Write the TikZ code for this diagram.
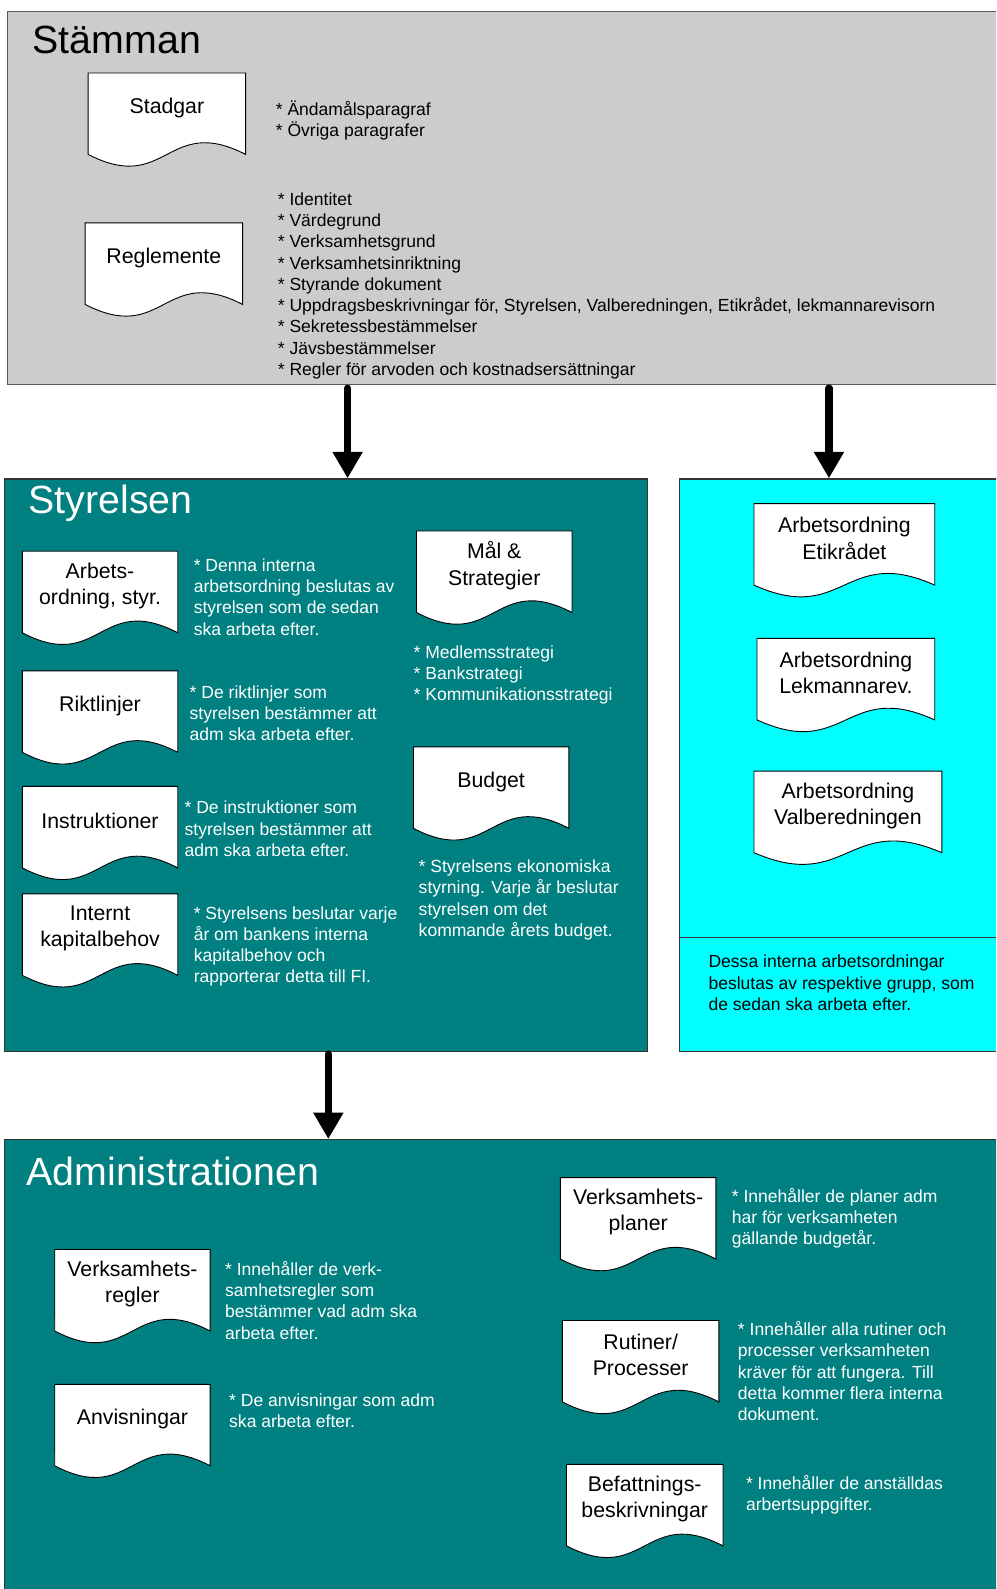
\documentclass[tikz,border=0pt]{standalone}
\usepackage{fontspec}
\setmainfont{Liberation Sans}
\usetikzlibrary{arrows.meta,calc}

\definecolor{stamgray}{HTML}{CCCCCC}
\definecolor{styrteal}{HTML}{008080}
\definecolor{grpcyan}{HTML}{00FFFF}
\definecolor{framegray}{HTML}{5A5A5A}

\tikzset{
  panel/.style={draw=framegray,line width=1.2pt,anchor=north west,inner sep=0pt},
  doc/.style={fill=white,inner sep=0pt,minimum width=153pt,minimum height=68pt,
    align=center,anchor=north west,font=\fontsize{21}{26}\selectfont},
  docline/.style={draw=black,line width=0.9pt},
  note/.style={align=left,anchor=west,inner sep=0pt,font=\fontsize{17.3}{21}\selectfont},
  title/.style={anchor=base west,inner sep=0pt,font=\fontsize{38.8}{44}\selectfont},
  bigarrow/.style={line width=7pt,line cap=round,-{Triangle[width=28pt,length=26pt]}},
}

% paper sheet with a wavy lower edge round a named node
\newcommand{\docwave}[1]{%
  \fill[white] ($(#1.south west)+(0,-1)$) -- ($(#1.south east)+(0,-1)$) -- ($(#1.south east)+(0,12)$)
    .. controls ($(#1.south)+(0,-28)$) and ($(#1.south)+(0,52)$) .. ($(#1.south west)+(0,12)$) -- cycle;
  \draw[docline] (#1.north west) -- (#1.north east) -- ($(#1.south east)+(0,12)$)
    .. controls ($(#1.south)+(0,-28)$) and ($(#1.south)+(0,52)$) .. ($(#1.south west)+(0,12)$) -- cycle;
}

\begin{document}
\begin{tikzpicture}[x=1pt,y=-1pt]
\useasboundingbox (0,0) rectangle (983,1568);
\clip (0,0) rectangle (983,1568);

%panels
\node[panel,fill=stamgray,minimum width=995pt,minimum height=368pt] (stamma) at (7,11) {};
\node[panel,fill=styrteal,draw=black!80,minimum width=634pt,minimum height=565pt] (styr) at (4,472) {};
\node[panel,fill=grpcyan,draw=black!80,minimum width=330pt,minimum height=565pt] (grupp) at (670,472) {};
\node[panel,fill=styrteal,draw=black!80,minimum width=995pt,minimum height=470pt] (adm) at (4,1124) {};
\coordinate (div) at (0,925);
\draw[black!80,line width=1.2pt] (grupp.west |- div) -- (grupp.east |- div);

%Stämman
\node[title] (stamtitle) at (32,53) {Stämman};
\node[doc,minimum width=155pt] (stadgar) at (87,72) {Stadgar};
\docwave{stadgar}
\node[note] (stadnote) at (272,119) {* Ändamålsparagraf\\* Övriga paragrafer};
\node[doc,minimum width=155pt] (regl) at (84,220) {Reglemente};
\docwave{regl}
\node[note] (reglnote) at (274,282) {* Identitet\\* Värdegrund\\* Verksamhetsgrund\\* Verksamhetsinriktning\\
  * Styrande dokument\\* Uppdragsbeskrivningar för, Styrelsen, Valberedningen, Etikrådet, lekmannarevisorn\\
  * Sekretessbestämmelser\\* Jävsbestämmelser\\* Regler för arvoden och kostnadsersättningar};

%arrows
\coordinate (a1) at (343,383);
\coordinate (a2) at (818,383);
\coordinate (a3) at (324,1040);
\draw[bigarrow] (a1) -- (a1 |- styr.north);
\draw[bigarrow] (a2) -- (a2 |- grupp.north);
\draw[bigarrow] (a3) -- (a3 |- adm.north);

%Styrelsen
\begin{scope}[every node/.append style={text=white}]
\node[title] (styrtitle) at (28,507) {Styrelsen};
\node[note] (arbnote) at (191,589) {* Denna interna\\arbetsordning beslutas av\\styrelsen som de sedan\\ska arbeta efter.};
\node[note] (riktnote) at (187,704) {* De riktlinjer som\\styrelsen bestämmer att\\adm ska arbeta efter.};
\node[note] (instnote) at (182,818) {* De instruktioner som\\styrelsen bestämmer att\\adm ska arbeta efter.};
\node[note] (kapnote) at (191,934) {* Styrelsens beslutar varje\\år om bankens interna\\kapitalbehov och\\rapporterar detta till FI.};
\node[note] (malnote) at (408,666) {* Medlemsstrategi\\* Bankstrategi\\* Kommunikationsstrategi};
\node[note] (budnote) at (413,888) {* Styrelsens ekonomiska\\styrning. Varje år beslutar\\styrelsen om det\\kommande årets budget.};
\end{scope}
\node[doc] (arbord) at (22,544) {Arbets-\\ordning, styr.};
\docwave{arbord}
\node[doc] (rikt) at (22,662) {Riktlinjer};
\docwave{rikt}
\node[doc] (instr) at (22,776) {Instruktioner};
\docwave{instr}
\node[doc] (kapital) at (22,882) {Internt\\kapitalbehov};
\docwave{kapital}
\node[doc] (mal) at (411,524) {Mål \&\\Strategier};
\docwave{mal}
\node[doc] (budget) at (408,737) {Budget};
\docwave{budget}

%grupperna
\node[doc,minimum width=178pt] (etik) at (744,497) {Arbetsordning\\Etikrådet};
\docwave{etik}
\node[doc,minimum width=175pt] (lekm) at (747,630) {Arbetsordning\\Lekmannarev.};
\docwave{lekm}
\node[doc,minimum width=185pt] (valb) at (744,761) {Arbetsordning\\Valberedningen};
\docwave{valb}
\node[note] (gruppnote) at (699,970) {Dessa interna arbetsordningar\\beslutas av respektive grupp, som\\de sedan ska arbeta efter.};

%Administrationen
\begin{scope}[every node/.append style={text=white}]
\node[title] (admtitle) at (26,1170) {Administrationen};
\node[note] (vregnote) at (222,1283) {* Innehåller de verk-\\samhetsregler som\\bestämmer vad adm ska\\arbeta efter.};
\node[note] (anvnote) at (226,1392) {* De anvisningar som adm\\ska arbeta efter.};
\node[note] (vplnote) at (722,1202) {* Innehåller de planer adm\\har för verksamheten\\gällande budgetår.};
\node[note] (rutnote) at (728,1353) {* Innehåller alla rutiner och\\processer verksamheten\\kräver för att fungera. Till\\detta kommer flera interna\\dokument.};
\node[note] (befnote) at (736,1475) {* Innehåller de anställdas\\arbertsuppgifter.};
\end{scope}
\node[doc] (vregler) at (54,1233) {Verksamhets-\\regler};
\docwave{vregler}
\node[doc] (anvis) at (54,1366) {Anvisningar};
\docwave{anvis}
\node[doc] (vplaner) at (553,1162) {Verksamhets-\\planer};
\docwave{vplaner}
\node[doc,minimum width=154pt] (rutiner) at (555,1303) {Rutiner/\\Processer};
\docwave{rutiner}
\node[doc,minimum width=154pt] (befatt) at (559,1445) {Befattnings-\\beskrivningar};
\docwave{befatt}
\end{tikzpicture}
\end{document}
